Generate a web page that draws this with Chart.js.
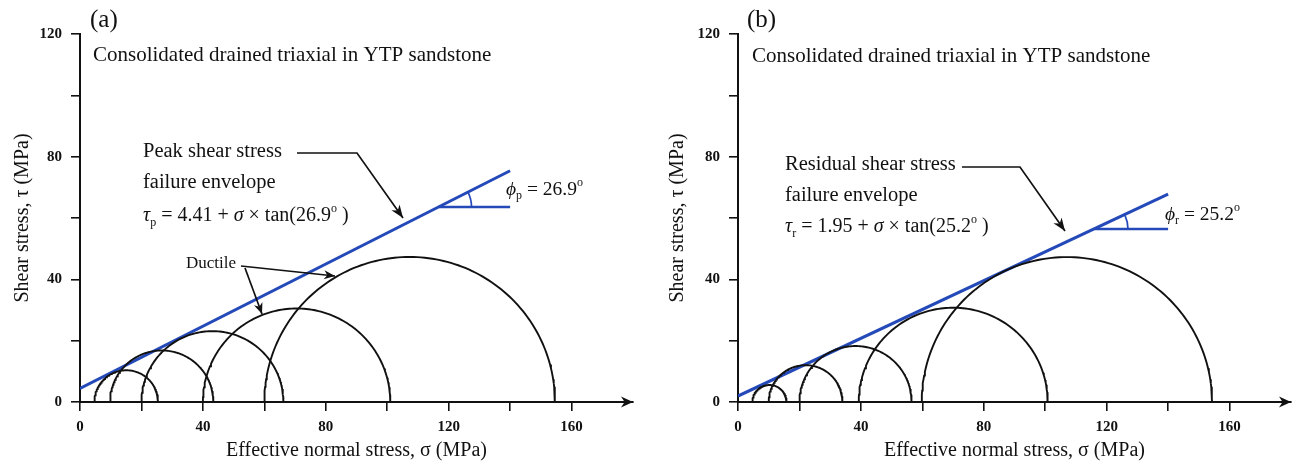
<!DOCTYPE html>
<html>
<head>
<meta charset="utf-8">
<script src="https://cdn.jsdelivr.net/npm/chart.js@4.4.0/dist/chart.umd.min.js"></script>
<style>
html, body { margin: 0; padding: 0; background: #fff; }
#wrap { position: relative; width: 1298px; height: 464px; }
canvas { position: absolute; top: 0; }
</style>
</head>
<body>
<div id="wrap">
    <canvas id="chartA" width="649" height="464" style="left:0"></canvas>
    <canvas id="chartB" width="649" height="464" style="left:649px"></canvas>
</div>
<script>
// Mohr circles from the drained triaxial tests (sigma3, sigma1 in MPa)
const peakSigma3 = [4.7, 9.8, 20, 40, 60];
const peakSigma1 = [25.4, 43.4, 66.2, 101, 154.6];
const resSigma3 = [4.7, 10, 20, 39.3, 59.8];
const resSigma1 = [15.8, 34, 56.5, 100.8, 154.3];

// failure envelopes (end points)
const peakEnvSigma = [0, 140];
const peakEnvTau = [4.41, 75.4];
const resEnvSigma = [0, 140];
const resEnvTau = [1.95, 67.8];

// horizontal leg of the friction angle mark
const peakLegSigma = [116.7, 140];
const peakLegTau = [63.6, 63.6];
const resLegSigma = [116.2, 140];
const resLegTau = [56.4, 56.4];

// axes
const xTicks = [0, 20, 40, 60, 80, 100, 120, 140, 160];
const yTicks = [0, 20, 40, 60, 80, 100, 120];
const xLabels = ['0', '40', '80', '120', '160'];
const yLabels = ['0', '40', '80', '120'];

const serif = "'Liberation Serif', 'Times New Roman', serif";
const ink = '#111';
const blue = '#2449b8';

// semicircle outline for one Mohr circle
function mohr(s3, s1) {
    const c = (s3 + s1) / 2, r = (s1 - s3) / 2;
    const pts = [];
    for (let i = 0; i <= 120; i++) {
        const a = Math.PI - Math.PI * i / 120;
        pts.push({ x: c + r * Math.cos(a), y: r * Math.sin(a) });
    }
    return pts;
}

function pairs(xs, ys) {
    return xs.map((x, i) => ({ x: x, y: ys[i] }));
}

function richText(ctx, x, y, parts, size) {
    let cx = x;
    parts.forEach(p => {
        const s = (p.sub || p.sup) ? Math.round(size * 0.62) : size;
        ctx.font = (p.it ? 'italic ' : '') + s + 'px ' + serif;
        const dy = p.sub ? size * 0.32 : (p.sup ? -size * 0.36 : 0);
        ctx.fillText(p.t, cx, y + dy);
        cx += ctx.measureText(p.t).width;
    });
}

function arrow(ctx, pts, len, half) {
    ctx.beginPath();
    ctx.moveTo(pts[0][0], pts[0][1]);
    for (let i = 1; i < pts.length; i++) ctx.lineTo(pts[i][0], pts[i][1]);
    ctx.stroke();
    const a = pts[pts.length - 2], b = pts[pts.length - 1];
    const ang = Math.atan2(b[1] - a[1], b[0] - a[0]);
    ctx.save();
    ctx.translate(b[0], b[1]);
    ctx.rotate(ang);
    ctx.beginPath();
    ctx.moveTo(0, 0);
    ctx.lineTo(-len, -half);
    ctx.lineTo(-len * 0.7, 0);
    ctx.lineTo(-len, half);
    ctx.closePath();
    ctx.fill();
    ctx.restore();
}

// text, arrows and angle marks drawn over the chart
const notesPlugin = {
    id: 'notes',
    afterDraw(chart) {
        const n = chart.options.plugins.notes;
        const ctx = chart.ctx;
        const xs = chart.scales.x, ys = chart.scales.y;
        const area = chart.chartArea;
        ctx.save();
        ctx.fillStyle = ink;
        ctx.strokeStyle = ink;
        ctx.textBaseline = 'middle';
        ctx.textAlign = 'left';

        // axis arrow head
        arrow(ctx, [[area.right - 12, area.bottom], [area.right, area.bottom]], 12, 5.5);

        ctx.font = '25px ' + serif;
        ctx.fillText(n.tag[0], n.tag[1], n.tag[2]);
        ctx.font = '21px ' + serif;
        ctx.fillText(n.subtitle[0], n.subtitle[1], n.subtitle[2]);
        n.lines.forEach(l => {
            ctx.font = '20.5px ' + serif;
            ctx.fillText(l[0], l[1], l[2]);
        });
        richText(ctx, n.eq.x, n.eq.y, n.eq.parts, 20);
        richText(ctx, n.phi.x, n.phi.y, n.phi.parts, 19.5);

        ctx.lineWidth = 1.7;
        arrow(ctx, n.leader, 13, 5);
        if (n.ductile) {
            ctx.font = '17px ' + serif;
            ctx.fillText(n.ductile.text, n.ductile.x, n.ductile.y);
            n.ductile.arrows.forEach(a => arrow(ctx, a, 11, 4.5));
        }

        // friction angle arc
        const leg = n.leg;
        const x0 = xs.getPixelForValue(leg[0][0]), y0 = ys.getPixelForValue(leg[1][0]);
        const ex = xs.getPixelForValue(n.env[0][1]) - xs.getPixelForValue(n.env[0][0]);
        const ey = ys.getPixelForValue(n.env[1][1]) - ys.getPixelForValue(n.env[1][0]);
        ctx.strokeStyle = blue;
        ctx.lineWidth = 1.7;
        ctx.beginPath();
        ctx.arc(x0, y0, 33, Math.atan2(ey, ex), 0);
        ctx.stroke();
        ctx.restore();
    }
};

function makePanel(id, s3, s1, env, leg, yWidth, padRight, yTitlePad, notes) {
    const datasets = s3.map((v, i) => ({
        data: mohr(v, s1[i]),
        borderColor: ink,
        borderWidth: 1.9,
        pointRadius: 0,
        showLine: true,
        fill: false
    }));
    datasets.push({
        data: pairs(env[0], env[1]),
        borderColor: blue, borderWidth: 3, pointRadius: 0, showLine: true
    });
    datasets.push({
        data: pairs(leg[0], leg[1]),
        borderColor: blue, borderWidth: 2.4, pointRadius: 0, showLine: true
    });
    notes.env = env;
    notes.leg = leg;

    const tickFont = { family: serif, size: 15, weight: 'bold' };
    const titleFont = { family: serif, size: 20 };

    new Chart(document.getElementById(id), {
        type: 'scatter',
        data: { datasets: datasets },
        options: {
            responsive: false,
            animation: false,
            layout: { padding: { top: 34, right: padRight, left: 0, bottom: 0 } },
            plugins: {
                legend: { display: false },
                tooltip: { enabled: false },
                notes: notes
            },
            scales: {
                x: {
                    type: 'linear', min: 0, max: 180,
                    afterBuildTicks: s => { s.ticks = xTicks.map(v => ({ value: v })); },
                    afterFit: s => { s.height = 62; },
                    ticks: {
                        color: ink, font: tickFont, padding: 7, maxRotation: 0, autoSkip: false,
                        callback: v => xLabels.includes(String(v)) ? String(v) : ''
                    },
                    grid: { drawOnChartArea: false, drawTicks: true, tickLength: 9, color: ink, lineWidth: 1.6 },
                    border: { color: ink, width: 2 },
                    title: {
                        display: true, text: 'Effective normal stress, σ (MPa)',
                        color: ink, font: titleFont, padding: { top: 0, bottom: 1 }
                    }
                },
                y: {
                    type: 'linear', min: 0, max: 120,
                    afterBuildTicks: s => { s.ticks = yTicks.map(v => ({ value: v })); },
                    afterFit: s => { s.width = yWidth; },
                    ticks: {
                        color: ink, font: tickFont, padding: 9, autoSkip: false,
                        callback: v => yLabels.includes(String(v)) ? String(v) : ''
                    },
                    grid: { drawOnChartArea: false, drawTicks: true, tickLength: 9, color: ink, lineWidth: 1.6 },
                    border: { color: ink, width: 2 },
                    title: {
                        display: true, text: 'Shear stress, τ (MPa)',
                        color: ink, font: titleFont, padding: { top: yTitlePad, bottom: 0 }
                    }
                }
            }
        },
        plugins: [notesPlugin]
    });
}

makePanel('chartA', peakSigma3, peakSigma1, [peakEnvSigma, peakEnvTau], [peakLegSigma, peakLegTau], 80, 16, 11, {
    tag: ['(a)', 90, 20],
    subtitle: ['Consolidated drained triaxial in YTP sandstone', 93, 55],
    lines: [['Peak shear stress', 143, 152], ['failure envelope', 143, 183]],
    eq: { x: 143, y: 216, parts: [
        { t: 'τ', it: 1 }, { t: 'p', sub: 1 }, { t: ' = 4.41 + ' }, { t: 'σ', it: 1 },
        { t: ' × tan(26.9' }, { t: 'o', sup: 1 }, { t: ' )' }] },
    phi: { x: 506, y: 190, parts: [
        { t: 'ϕ', it: 1 }, { t: 'p', sub: 1 }, { t: ' = 26.9' }, { t: 'o', sup: 1 }] },
    leader: [[297, 153], [357, 153], [403, 218]],
    ductile: {
        text: 'Ductile', x: 186, y: 264,
        arrows: [[[241, 266], [335, 276]], [[245, 268], [262, 314]]]
    }
});

makePanel('chartB', resSigma3, resSigma1, [resEnvSigma, resEnvTau], [resLegSigma, resLegTau], 89, 7, 17, {
    tag: ['(b)', 98, 20],
    subtitle: ['Consolidated drained triaxial in YTP sandstone', 103, 56],
    lines: [['Residual shear stress', 136, 165], ['failure envelope', 136, 196]],
    eq: { x: 136, y: 227, parts: [
        { t: 'τ', it: 1 }, { t: 'r', sub: 1 }, { t: ' = 1.95 + ' }, { t: 'σ', it: 1 },
        { t: ' × tan(25.2' }, { t: 'o', sup: 1 }, { t: ' )' }] },
    phi: { x: 516, y: 215, parts: [
        { t: 'ϕ', it: 1 }, { t: 'r', sub: 1 }, { t: ' = 25.2' }, { t: 'o', sup: 1 }] },
    leader: [[313, 167], [371, 167], [416, 231]]
});
</script>
</body>
</html>
